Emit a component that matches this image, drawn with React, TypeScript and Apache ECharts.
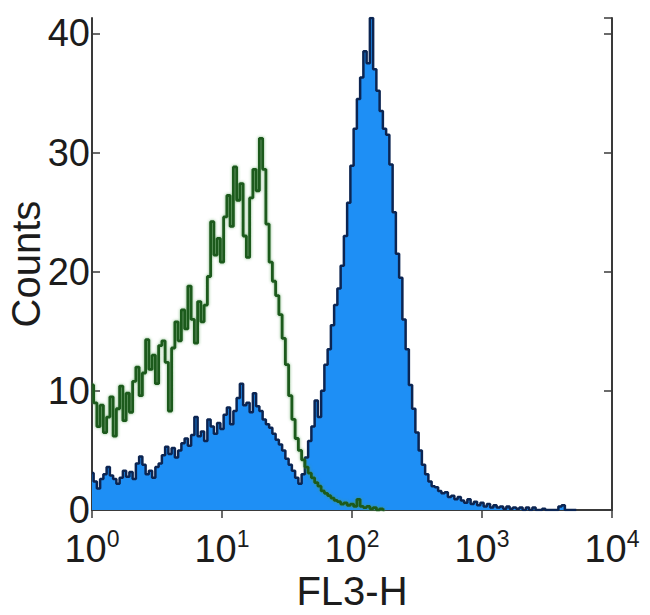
import React, { useEffect, useRef } from "react";
import * as echarts from "echarts";

// Histogram bins: bin i sits at 10^(i * LOG_STEP) on the FL3-H axis
const LOG_STEP = 0.025;

// Filled (blue) histogram counts
const blueCounts = [
  3.1, 2.4, 1.8, 2.6, 3.0, 3.6, 2.9, 2.6, 2.2, 2.7,
  3.3, 2.8, 3.2, 2.6, 3.9, 4.5, 3.8, 3.0, 3.3, 2.7,
  3.6, 3.9, 4.6, 5.3, 4.7, 5.2, 4.4, 5.0, 5.6, 6.0,
  5.4, 6.3, 7.8, 6.2, 6.6, 5.8, 7.6, 7.0, 6.4, 7.3,
  6.8, 8.0, 8.6, 7.2, 8.3, 9.4, 10.6, 8.8, 9.0, 8.2,
  9.8, 8.7, 8.3, 7.6, 7.2, 6.9, 6.4, 5.9, 5.5, 5.0,
  4.3, 3.8, 3.3, 2.7, 2.2, 3.0, 4.4, 5.8, 7.0, 9.2,
  7.8, 10.0, 12.2, 13.5, 15.5, 17.2, 18.6, 20.5, 23.0, 25.8,
  28.9, 32.0, 34.5, 36.3, 38.5, 37.5, 41.3, 37.0, 35.2, 33.5,
  32.0, 31.5, 29.0, 25.0, 21.5, 19.5, 16.0, 13.5, 10.5, 8.5,
  6.5, 5.0, 3.8, 3.0, 2.4, 2.0, 1.9, 1.6, 1.4, 1.5,
  1.1, 1.2, 0.9, 1.1, 0.8, 0.6, 0.9, 0.5, 0.7, 0.4,
  0.6, 0.3, 0.5, 0.2, 0.4, 0.2, 0.3, 0.1, 0.3, 0.1,
  0.2, 0.1, 0.2, 0, 0.2, 0, 0.2, 0, 0, 0.1,
  0, 0, 0, 0, 0.3, 0.4, 0, 0, 0, 0
];

// Outline (green) histogram counts
const greenCounts = [
  10.5, 9.0, 7.0, 8.8, 6.5, 7.8, 9.5, 6.2, 8.5, 10.4,
  7.5, 9.8, 8.2, 10.8, 12.0, 9.6, 11.5, 14.3, 11.8, 13.0,
  10.6, 13.8, 14.2, 12.4, 8.3, 13.6, 15.8, 14.2, 16.8, 15.2,
  18.8, 16.0, 14.0, 17.5, 15.8, 17.2, 19.6, 24.2, 21.4, 22.8,
  20.8, 24.6, 26.4, 23.8, 28.8, 26.0, 27.4, 23.0, 21.2, 26.2,
  28.6, 26.8, 31.2, 28.6, 24.0, 20.8, 19.2, 18.0, 16.4, 14.4,
  12.2, 9.6, 7.6, 6.0, 5.0, 4.2, 3.6, 3.1, 2.7, 2.3,
  2.0, 1.6, 1.4, 1.2, 1.0, 0.8, 0.7, 0.5, 0.6, 0.4,
  0.5, 0.3, 0.9, 0.3, 0.2, 0.3, 0.1, 0.2, 0, 0.1,
  0
];

const yTicks = [0, 10, 20, 30, 40];
const xExponents = [0, 1, 2, 3, 4];

const FONT = "'Liberation Sans', Arial, Helvetica, sans-serif";
const TEXT_COLOR = "#1c1c1c";
const FRAME = "#3a3a3a";

function toPairs(counts: number[]) {
  return counts.map((v, i) => [Math.pow(10, i * LOG_STEP), v]);
}

export default function App() {
  const ref = useRef<HTMLDivElement>(null);
  useEffect(() => {
    if (!ref.current) return;
    const chart = echarts.init(ref.current, null, { renderer: "svg" });
    const axisLine = { show: true, lineStyle: { color: FRAME, width: 2 } };
    const tick = { show: true, inside: true, length: 8, lineStyle: { color: FRAME, width: 1.5 } };
    chart.setOption({
      animation: false,
      backgroundColor: "#ffffff",
      grid: {
        left: 92,
        right: 38,
        top: 18,
        bottom: 105,
        containLabel: false,
        outerBoundsMode: "none",
      },
      xAxis: [
        {
          type: "log",
          logBase: 10,
          min: Math.pow(10, xExponents[0]),
          max: Math.pow(10, xExponents[xExponents.length - 1]),
          position: "bottom",
          name: "FL3-H",
          nameLocation: "middle",
          nameGap: 61,
          nameMoveOverlap: false,
          nameTextStyle: { fontSize: 40, lineHeight: 40, fontFamily: FONT, color: TEXT_COLOR },
          axisLine,
          axisTick: tick,
          minorTick: { show: false },
          splitLine: { show: false },
          axisLabel: {
            margin: 17,
            formatter: (v: number) => `{b|10}{s|${Math.round(Math.log10(v))}}`,
            rich: {
              b: { fontSize: 38, fontFamily: FONT, color: TEXT_COLOR, lineHeight: 44 },
              s: { fontSize: 23, fontFamily: FONT, color: TEXT_COLOR, verticalAlign: "top", lineHeight: 18 },
            },
          },
        },
        {
          type: "log",
          logBase: 10,
          min: Math.pow(10, xExponents[0]),
          max: Math.pow(10, xExponents[xExponents.length - 1]),
          position: "top",
          axisLine,
          axisTick: tick,
          axisLabel: { show: false },
          splitLine: { show: false },
        },
      ],
      yAxis: [
        {
          type: "value",
          min: yTicks[0],
          max: 41.3,
          interval: 10,
          position: "left",
          name: "Counts",
          nameLocation: "middle",
          nameGap: 46,
          nameMoveOverlap: false,
          nameTextStyle: { fontSize: 40, lineHeight: 40, fontFamily: FONT, color: TEXT_COLOR },
          axisLine,
          axisTick: tick,
          splitLine: { show: false },
          axisLabel: {
            margin: 2,
            fontSize: 38,
            lineHeight: 26,
            fontFamily: FONT,
            color: TEXT_COLOR,
            showMaxLabel: false,
            formatter: (v: number) => (yTicks.indexOf(v) >= 0 ? String(v) : ""),
          },
        },
        {
          type: "value",
          min: yTicks[0],
          max: 41.3,
          interval: 10,
          position: "right",
          axisLine,
          axisTick: tick,
          axisLabel: { show: false },
          splitLine: { show: false },
        },
      ],
      series: [
        {
          type: "line",
          step: "middle",
          data: toPairs(blueCounts),
          symbol: "none",
          lineStyle: { color: "#0c2552", width: 2.5 },
          areaStyle: { color: "#1e8ff5", opacity: 1 },
          z: 2,
        },
        {
          type: "line",
          step: "middle",
          data: toPairs(greenCounts),
          symbol: "none",
          lineStyle: {
            color: "#1f5a1f",
            width: 2.8,
            shadowColor: "rgba(70,150,70,0.7)",
            shadowBlur: 3,
          },
          z: 3,
        },
      ],
    });
    return () => chart.dispose();
  }, []);
  return (
    <div
      ref={ref}
      style={{ position: "fixed", left: 0, top: 0, width: 650, height: 615, background: "#fff" }}
    />
  );
}
